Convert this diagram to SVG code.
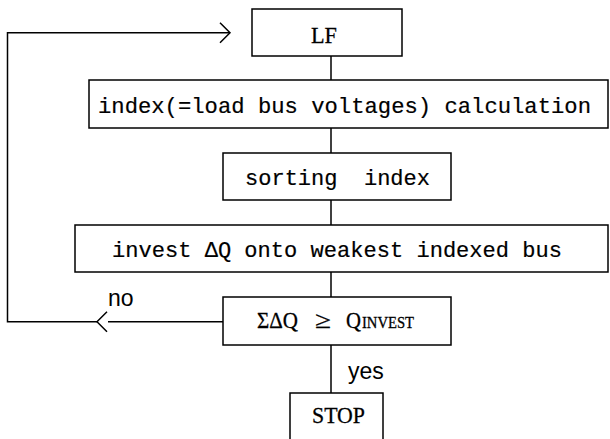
<svg xmlns="http://www.w3.org/2000/svg" width="610" height="439" viewBox="0 0 610 439">
  <style>
    .box { fill: #ffffff; stroke: #000000; stroke-width: 1.5; }
    .wire { fill: none; stroke: #000000; stroke-width: 1.5; }
    .mono { font-family: "Liberation Mono", "DejaVu Sans Mono", monospace; font-size: 22.5px; fill: #000000; stroke: #000000; stroke-width: 0.2; }
    .serif { font-family: "Liberation Serif", "DejaVu Serif", serif; font-size: 24px; fill: #000000; stroke: #000000; stroke-width: 0.3; }
    .label { font-family: "Liberation Sans", Arial, sans-serif; font-size: 23px; fill: #000000; }
  </style>
  <rect width="610" height="439" fill="#ffffff"/>

  <!-- connectors -->
  <g id="connectors">
    <path class="wire" d="M331 56 V80"/>
    <path class="wire" d="M331 128 V153"/>
    <path class="wire" d="M331 200 V225"/>
    <path class="wire" d="M331 272 V297"/>
    <path class="wire" d="M331 345 V393"/>
    <!-- "no" branch back to the load flow -->
    <path class="wire" d="M223 321.7 H108"/>
    <path class="wire" d="M107 311.7 L97 321.7 L107 331.7"/>
    <path class="wire" d="M97 321.7 H7.5 V32.7 H230"/>
    <path class="wire" d="M220 22.7 L230 32.7 L220 42.7"/>
    <text class="label" x="108" y="306">no</text>
    <text class="label" x="348" y="379">yes</text>
  </g>

  <g id="lf">
    <rect class="box" x="252" y="9" width="150" height="47"/>
    <text class="serif" x="311" y="43" font-size="26" textLength="26" lengthAdjust="spacingAndGlyphs">LF</text>
  </g>

  <g id="index-calc">
    <rect class="box" x="89" y="80" width="519" height="48"/>
    <text class="mono" x="98" y="113" textLength="493" lengthAdjust="spacingAndGlyphs">index(=load bus voltages) calculation</text>
  </g>

  <g id="sorting">
    <rect class="box" x="223" y="153" width="228" height="47"/>
    <text class="mono" x="245" y="185" xml:space="preserve" style="white-space:pre" textLength="185" lengthAdjust="spacingAndGlyphs">sorting  index</text>
  </g>

  <g id="invest">
    <rect class="box" x="75" y="225" width="533" height="47"/>
    <text class="mono" x="112" y="257" textLength="450" lengthAdjust="spacingAndGlyphs">invest ΔQ onto weakest indexed bus</text>
  </g>

  <g id="check">
    <rect class="box" x="223" y="297" width="228" height="48"/>
    <text class="serif" y="328"><tspan x="257" textLength="41" lengthAdjust="spacingAndGlyphs">ΣΔQ</tspan><tspan x="315" textLength="16" lengthAdjust="spacingAndGlyphs">≥</tspan><tspan x="346" textLength="15" lengthAdjust="spacingAndGlyphs">Q</tspan><tspan x="362" font-size="16" textLength="52" lengthAdjust="spacingAndGlyphs">INVEST</tspan></text>
  </g>

  <g id="stop">
    <rect class="box" x="290" y="393" width="93" height="52"/>
    <text class="serif" x="312" y="423" textLength="53" lengthAdjust="spacingAndGlyphs">STOP</text>
  </g>
</svg>
